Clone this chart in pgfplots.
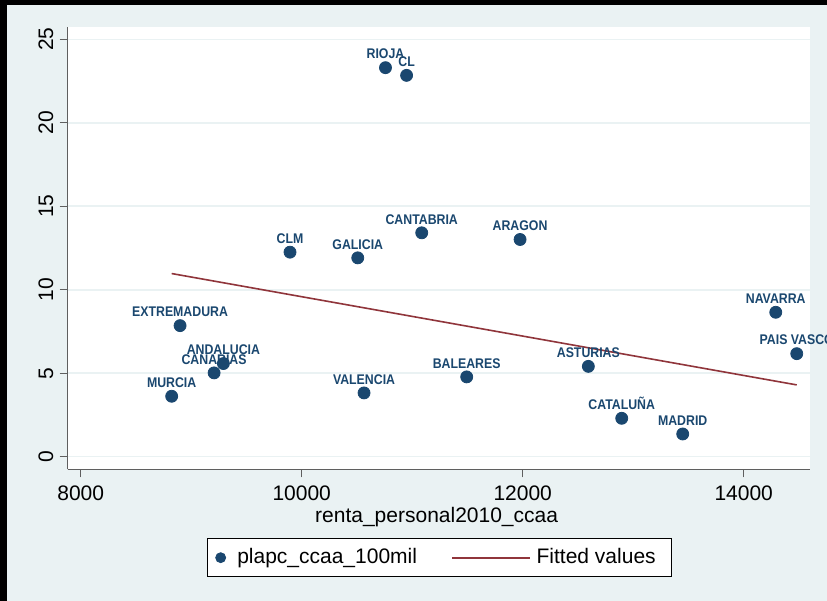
\documentclass[border=0pt]{standalone}
\usepackage{fontspec}
\setmainfont{Liberation Sans}
\newfontfamily\lblfont{Liberation Sans}[FakeStretch=0.88]
\usepackage{pgfplots}
\usepackage{pgfplotstable}
\pgfplotsset{compat=1.18}
\definecolor{navy}{RGB}{26,71,111}
\definecolor{maroon}{RGB}{144,53,59}
\definecolor{bg}{RGB}{234,242,243}
\definecolor{axgray}{RGB}{95,95,95}

\pgfplotstableread{
x y label
10758 23.30 RIOJA
10949 22.84 CL
9894 12.25 CLM
10507 11.91 GALICIA
11086 13.41 CANTABRIA
8899 7.85 EXTREMADURA
9291 5.58 ANDALUCIA
9207 5.02 CANARIAS
8823 3.62 MURCIA
10564 3.82 VALENCIA
11976 13.01 ARAGON
14290 8.65 NAVARRA
14480 6.17 {PAIS VASCO}
11493 4.78 BALEARES
12594 5.41 ASTURIAS
12896 2.30 CATALUÑA
13448 1.36 MADRID
}\datatable

\pgfplotstableread{
x y
8823 10.97
14480 4.30
}\fittable

\begin{document}
\begin{tikzpicture}
\useasboundingbox (0,0) rectangle (413.5pt,300.5pt);
\clip (0,0) rectangle (413.5pt,300.5pt);
\fill[black] (0,0) rectangle (413.5pt,300.5pt);
\fill[bg] (3.5pt,0) rectangle (413.5pt,298pt);
\begin{axis}[
  at={(33.85pt,65.85pt)}, anchor=south west,
  scale only axis, width=371.15pt, height=221.3pt,
  xmin=7882, xmax=14600, ymin=-0.755, ymax=25.755,
  axis lines*=left,
  axis line style={axgray, line width=0.6pt},
  axis background/.style={fill=white},
  xtick={8000,10000,12000,14000},
  ytick={0,5,10,15,20,25},
  scaled x ticks=false, scaled y ticks=false,
  tick align=outside,
  major tick length=4pt,
  tick style={axgray, line width=0.6pt},
  ymajorgrids,
  grid style={bg, line width=0.8pt},
  /pgf/number format/assume math mode=true,
  /pgf/number format/1000 sep={},
  tick label style={font=\fontsize{10.5}{12}\selectfont, inner sep=0pt},
  xticklabel style={anchor=north},
  yticklabel style={rotate=90, anchor=south},
  xticklabel shift=4pt,
  yticklabel shift=3pt,
  xlabel={renta\_personal2010\_ccaa},
  xlabel style={at={(axis description cs:0.497,-0.1213)}, anchor=base, inner sep=0pt, font=\fontsize{10.5}{12}\selectfont},
  legend style={at={(0.5006,-0.1997)}, anchor=center, draw=black, fill=white,
    font=\fontsize{10.5}{12}\selectfont, legend columns=2,
    inner xsep=4.15pt, inner ysep=5pt, nodes={inner sep=0pt}},
  clip=false,
]
\addplot[only marks, mark=*, mark size=3pt, color=navy,
  point meta=explicit symbolic,
  nodes near coords,
  every node near coord/.append style={font=\lblfont\bfseries\fontsize{7}{8}\selectfont, text=navy, inner sep=0pt, anchor=south, yshift=4.1pt},
  legend image code/.code={\path (0pt,0pt) (10.6pt,0pt); \fill[navy] (2.5pt,0pt) circle (2.5pt);}
] table[x=x, y=y, meta=label] {\datatable};
\addlegendentry{plapc\_ccaa\_100mil}
\addplot[maroon, line width=0.8pt, no marks,
  legend image code/.code={\path (0pt,0pt) (59pt,0pt); \draw[maroon, line width=0.9pt] (17.1pt,0pt) -- (56.1pt,0pt);}
] table[x=x, y=y] {\fittable};
\addlegendentry{Fitted values\hspace*{3.8pt}}
\end{axis}
\end{tikzpicture}
\end{document}
